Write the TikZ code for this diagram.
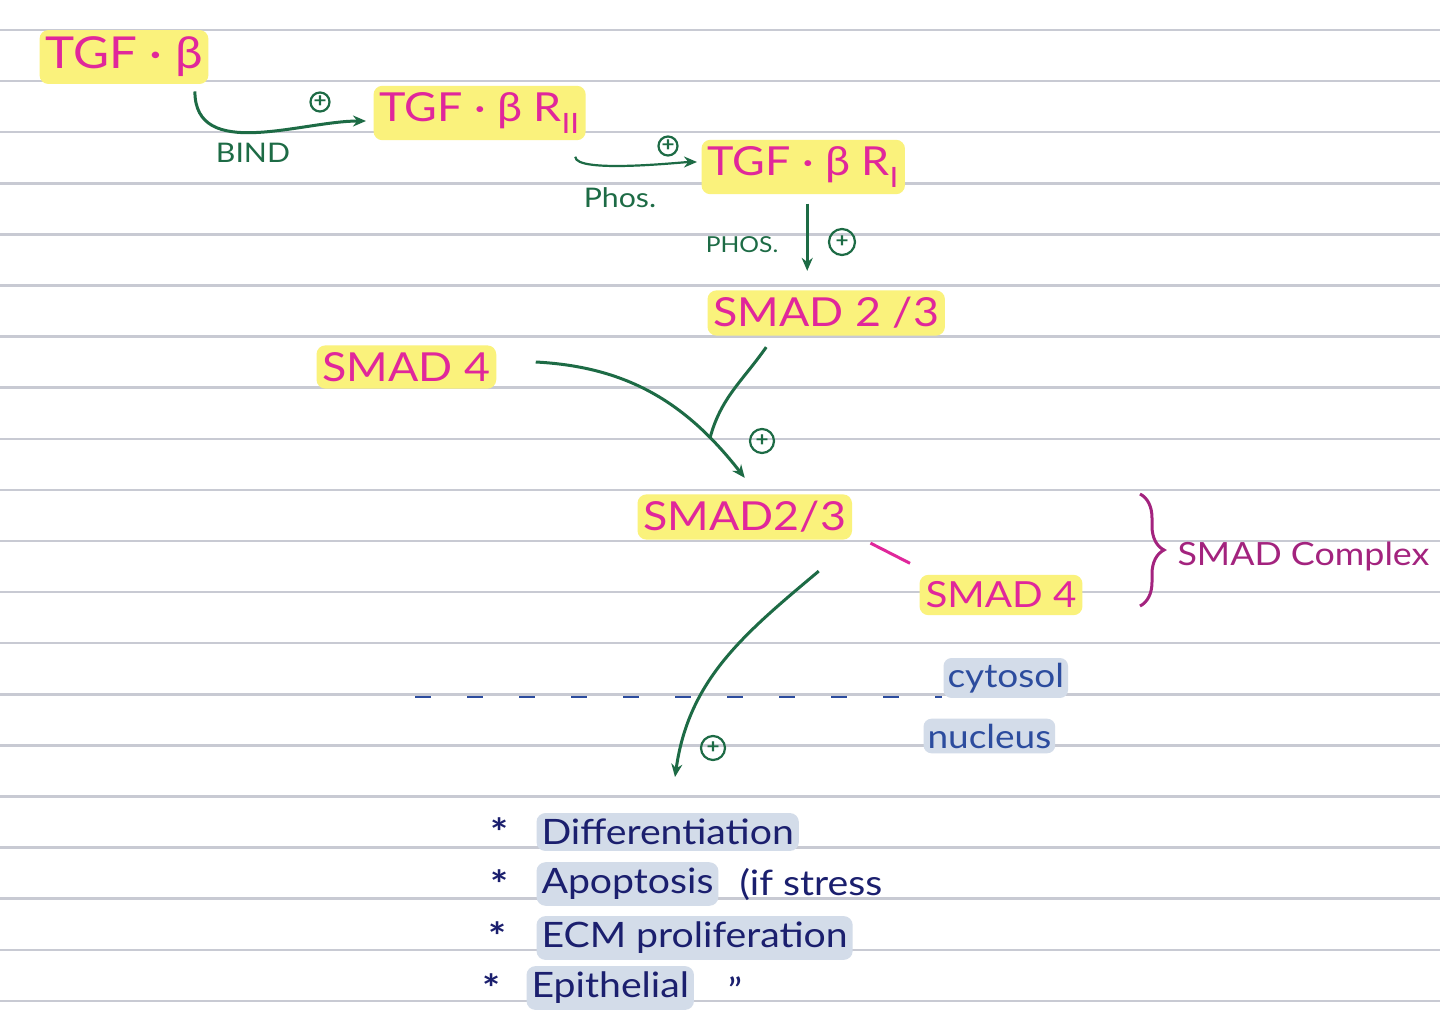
\documentclass[tikz,border=0pt]{standalone}
\usepackage{fontspec}
\setmainfont[FakeStretch=1.12]{Lato}
\usetikzlibrary{arrows.meta,decorations.pathreplacing}
\definecolor{ruleg}{HTML}{C8CAD3}
\definecolor{mag}{HTML}{E0279B}
\definecolor{hlyel}{HTML}{FAF27C}
\definecolor{grn}{HTML}{1D6B45}
\definecolor{plum}{HTML}{A3237E}
\definecolor{cyt}{HTML}{2C4C9E}
\definecolor{ink}{HTML}{1B1F6E}
\definecolor{hlblu}{HTML}{D3DCE9}
\newcommand{\fsz}[1]{\fontsize{#1}{#1}\selectfont}

\begin{document}
\begin{tikzpicture}[x=1pt,y=-1pt,line width=3pt,inner sep=0pt,
    hl/.style={fill=hlyel,text=mag,rounded corners=9pt,inner xsep=6pt,
      inner ysep=7pt,font=\fsz{40}},
    lbl/.style={text=grn,font=\fsz{27}},
    plus/.style={circle,draw=grn,text=grn,line width=2.2pt,minimum size=20pt,
      font=\bfseries\fsz{20}},
    arr/.style={grn,line width=3pt,-{Stealth[length=13pt,width=11pt]}},
    li/.style={fill=hlblu,text=ink,rounded corners=9pt,inner xsep=5pt,
      inner ysep=6pt,font=\fsz{35}},
    place/.style={fill=hlblu,text=cyt,rounded corners=8pt,inner xsep=4pt,
      inner ysep=5pt,font=\fsz{33}},
    star/.style={text=ink,font=\bfseries\fsz{38}}]
    \path[use as bounding box] (0,0) rectangle (1440,1028);
    \fill[white] (0,0) rectangle (1440,1028);
    \foreach \k in {0,...,19}
      \draw[ruleg,line width=2.5pt] (0,30+51.1*\k) -- (1440,30+51.1*\k);
    % pathway
    \node[hl,anchor=west,font=\fsz{44}] (tgfb) at (38,57) {TGF · β};
    \node[hl,anchor=west] (r2) at (372,113) {TGF · β R\textsubscript{II}};
    \node[hl,anchor=west] (r1) at (700,167) {TGF · β R\textsubscript{I}};
    \node[hl,anchor=west] (smad23a) at (706,313) {SMAD 2 /3};
    \node[hl,anchor=west] (smad4a) at (315,367) {SMAD 4};
    \node[hl,anchor=west] (smad23b) at (636,517) {SMAD2/3};
    \node[hl,anchor=west,font=\fsz{36}] (smad4b) at (918,595) {SMAD 4};
    \node[lbl] (bind) at (253,153) {BIND};
    \node[lbl] (phosa) at (620,198) {Phos.};
    \node[lbl,font=\fsz{22}] (phosb) at (742,245) {PHOS.};
    \node[plus,minimum size=19pt] (p1) at (320,102) {+};
    \node[plus,minimum size=19pt] (p2) at (668,146) {+};
    \node[plus,minimum size=26pt] (p3) at (842,242) {+};
    \node[plus,minimum size=24pt] (p4) at (762,441) {+};
    \node[plus,minimum size=24pt] (p5) at (713,748) {+};
    \draw[arr,shorten >=6pt] ([xshift=-15pt,yshift=-6pt]tgfb.south east)
      to[out=-90,in=180] ([yshift=-8pt]r2.west);
    \draw[arr,line width=2.2pt,shorten >=3pt] ([xshift=-12pt,yshift=-15pt]r2.south east)
      to[out=-90,in=180,looseness=0.35] ([yshift=5pt]r1.west);
    \draw[arr,shorten <=8pt,shorten >=18pt] ([xshift=4pt]r1.south)
      -- ([xshift=4pt]r1.south |- smad23a.north);
    \coordinate (join) at (710,438);
    \draw[arr] ([xshift=38pt,yshift=5pt]smad4a.east)
      to[out=-3,in=128] ([yshift=15pt]smad23b.north);
    \draw[grn] ([xshift=-60pt,yshift=-10pt]smad23a.south) to[out=-125,in=75] (join);
    \draw[mag] ([xshift=17pt,yshift=-2pt]smad23b.south east)
      -- ([xshift=-8pt,yshift=10pt]smad4b.north west);
    % complex
    \coordinate (bt) at (1140,494);
    \coordinate (bb) at (1140,606);
    \draw[plum,decorate,decoration={brace,amplitude=24pt}] (bt) -- (bb);
    \node[anchor=west,text=plum,font=\fsz{32}] (cplx) at (1176,556) {SMAD Complex};
    % membrane
    \node[place,anchor=west] (cytosol) at (942,678) {cytosol};
    \node[place,anchor=west] (nucleus) at (922,736) {nucleus};
    \coordinate (membL) at (415,697);
    \draw[cyt,line width=2.5pt,dash pattern=on 16pt off 36pt]
      (membL) -- (membL -| cytosol.west);
    \coordinate (down) at (675,777);
    \draw[arr] ([xshift=74pt,yshift=-30pt]smad23b.south) to[out=-140,in=82] (down);
    % effects
    \node[star] (s1) at (500,832) {*};
    \node[star] (s2) at (500,884) {*};
    \node[star] (s3) at (498,936) {*};
    \node[star] (s4) at (492,988) {*};
    \node[li,anchor=west] (diff) at (535,832) {Differentiation};
    \node[li,anchor=west] (apo) at (535,884) {Apoptosis};
    \node[anchor=west,text=ink,font=\fsz{35}] (stress) at (738,884) {(if stress};
    \node[li,anchor=west] (ecm) at (535,938) {ECM proliferation};
    \node[li,anchor=west] (epi) at (525,988) {Epithelial};
    \node[text=ink,font=\fsz{35}] (ditto) at (735,990) {''};
  \end{tikzpicture}
\end{document}
